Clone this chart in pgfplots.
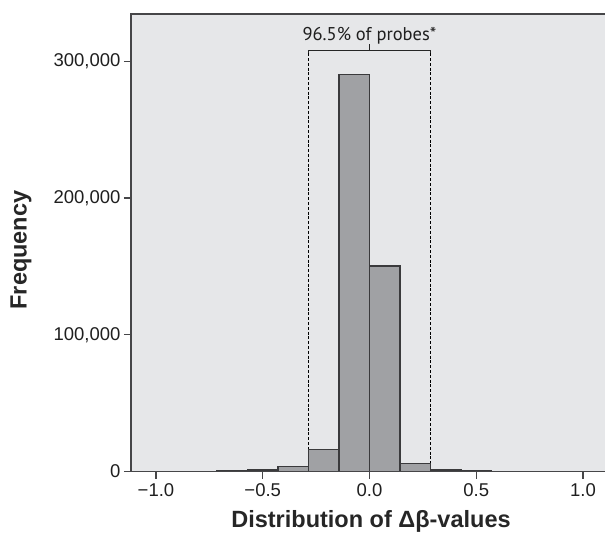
\documentclass[border=0pt]{standalone}
\usepackage{pgfplots}
\pgfplotsset{compat=1.18}
\usepackage{fontspec}
\setmainfont{Liberation Sans}
\newfontfamily\annfont{PT Sans}
\definecolor{bgcol}{RGB}{230,231,233}
\definecolor{barfill}{RGB}{160,161,164}
\definecolor{bardark}{RGB}{58,58,60}
\definecolor{framecol}{RGB}{70,70,72}
\begin{document}
\begin{tikzpicture}
\begin{axis}[
  at={(131pt,-471.5pt)}, anchor=south west,
  scale only axis, width=474pt, height=457.5pt,
  xmin=-1.117, xmax=1.103, ymin=0, ymax=334700,
  axis background/.style={fill=bgcol},
  axis line style={draw=none},
  scaled y ticks=false, scaled x ticks=false,
  xtick={-1,-0.5,0,0.5,1},
  xticklabels={−1.0,−0.5,0.0,0.5,1.0},
  ytick={0,100000,200000,300000},
  yticklabels={0,{100,000},{200,000},{300,000}},
  xtick pos=bottom, ytick pos=left,
  tick align=outside, major tick length=7pt,
  tick style={draw=framecol, line width=1.3pt},
  tick label style={font=\fontsize{18.5}{21}\selectfont, text=black!88},
  xticklabel style={yshift=-2pt},
  clip=false,
]
\draw[dash pattern=on 3pt off 1.8pt, line width=0.9pt, black] (axis cs:-0.285714,306000) -- (axis cs:-0.285714,0);
\draw[dash pattern=on 3pt off 1.8pt, line width=0.9pt, black] (axis cs:0.285714,306000) -- (axis cs:0.285714,0);
\addplot[ybar interval, fill=barfill, draw=bardark, line width=1.3pt] coordinates {
(-0.857143,100)
(-0.714286,400)
(-0.571429,1200)
(-0.428571,3600)
(-0.285714,16000)
(-0.142857,290500)
(0,150300)
(0.142857,5800)
(0.285714,1100)
(0.428571,300)
(0.571429,150)
(0.714286,80)
(0.857143,80)
};
\draw[line width=1.1pt, black!85] (axis cs:-0.285714,306000) -- (axis cs:-0.285714,307800) -- (axis cs:0.285714,307800) -- (axis cs:0.285714,306000);
\draw[line width=1.1pt, black!85] (axis cs:0,307800) -- (axis cs:0,313000);
\node[font=\annfont\fontsize{18.5}{20}\selectfont, text=black!88, anchor=base] at (axis cs:0,315500) {96.5\% of probes*};
\draw[framecol, line width=1.4pt] (rel axis cs:1,1) -- (rel axis cs:0,1) -- (rel axis cs:0,0) -- (rel axis cs:1,0);
\end{axis}
\node[font=\bfseries\fontsize{23.5}{26}\selectfont, text=black!85, rotate=90] at (21pt,-250pt) {Frequency};
\node[font=\bfseries\fontsize{23.5}{26}\selectfont, text=black!85, anchor=base] at (371pt,-527pt) {Distribution of Δβ-values};
\pgfresetboundingbox
\path[use as bounding box] (0pt,0pt) rectangle (605pt,-537pt);
\end{tikzpicture}
\end{document}
